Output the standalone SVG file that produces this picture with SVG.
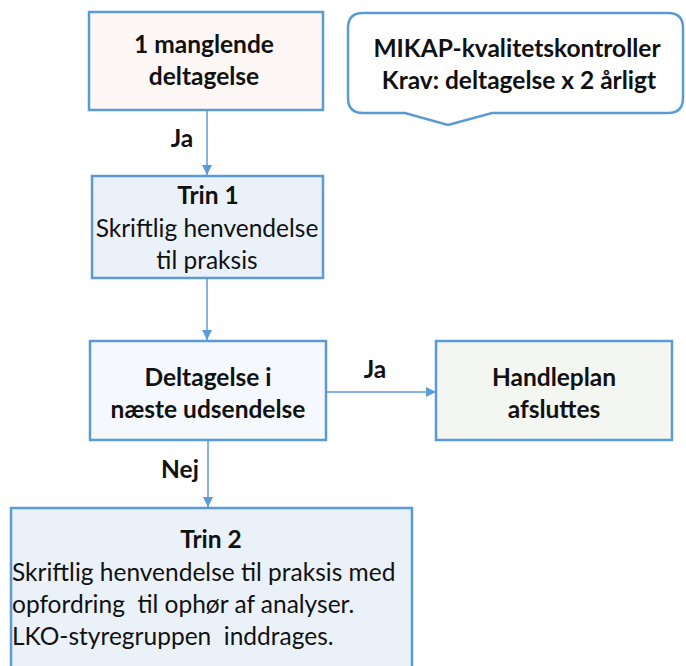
<svg xmlns="http://www.w3.org/2000/svg" width="686" height="666" viewBox="0 0 686 666">
  <defs>
    <style>
      .box { stroke: #5b9bd5; stroke-width: 2.5; }
      .t { font-family: Lato, "Open Sans", "Liberation Sans", sans-serif; font-size: 24.5px; fill: #111; white-space: pre; }
      .b { font-weight: bold; }
      .c { text-anchor: middle; }
      .edge { stroke: #5b9bd5; stroke-width: 1.5; fill: none; marker-end: url(#arrow); }
    </style>
    <marker id="arrow" viewBox="0 0 10 10" refX="10" refY="5" markerWidth="10" markerHeight="10" markerUnits="userSpaceOnUse" orient="auto">
      <path d="M0,0 L10,5 L0,10 z" fill="#5b9bd5"/>
    </marker>
  </defs>
  <rect width="686" height="666" fill="#ffffff"/>

  <g id="connectors">
    <line class="edge" x1="207" y1="111" x2="207" y2="175"/>
    <line class="edge" x1="207" y1="279" x2="207" y2="340"/>
    <line class="edge" x1="326" y1="392" x2="436" y2="392"/>
    <line class="edge" x1="208" y1="441" x2="208" y2="507"/>
    <text class="t b c" x="182" y="147">Ja</text>
    <text class="t b c" x="375" y="378">Ja</text>
    <text class="t b c" x="180" y="478">Nej</text>
  </g>

  <g id="start">
    <rect class="box" x="89" y="12" width="234" height="98" fill="#fdf8f5"/>
    <text class="t b c" x="204" y="53">1 manglende</text>
    <text class="t b c" x="204" y="85">deltagelse</text>
  </g>

  <g id="note">
    <path class="box" fill="#ffffff" d="M363,13 H668 Q683,13 683,28 V98 Q683,113 668,113 H492 L448,125 L405,113 H363 Q348,113 348,98 V28 Q348,13 363,13 Z"/>
    <text class="t b c" x="517" y="57">MIKAP-kvalitetskontroller</text>
    <text class="t b c" x="519" y="89">Krav: deltagelse x 2 årligt</text>
  </g>

  <g id="trin1">
    <rect class="box" x="92" y="176" width="231" height="102" fill="#eaf1f8"/>
    <text class="t b c" x="208" y="204">Trin 1</text>
    <text class="t c" x="207" y="237">Skriftlig henvendelse</text>
    <text class="t c" x="207" y="269">til praksis</text>
  </g>

  <g id="check">
    <rect class="box" x="90" y="341" width="236" height="99" fill="#f5f9fd"/>
    <text class="t b c" x="208" y="386">Deltagelse i</text>
    <text class="t b c" x="208" y="418">næste udsendelse</text>
  </g>

  <g id="done">
    <rect class="box" x="436" y="341" width="236" height="99" fill="#f3f6f1"/>
    <text class="t b c" x="554" y="386">Handleplan</text>
    <text class="t b c" x="554" y="418">afsluttes</text>
  </g>

  <g id="trin2">
    <rect class="box" x="11" y="508" width="401" height="170" fill="#eaf1f8"/>
    <text class="t b c" x="211" y="548">Trin 2</text>
    <text class="t" x="12" y="581">Skriftlig henvendelse til praksis med</text>
    <text class="t" x="12" y="613">opfordring  til ophør af analyser.</text>
    <text class="t" x="12" y="645">LKO-styregruppen  inddrages.</text>
  </g>
</svg>
